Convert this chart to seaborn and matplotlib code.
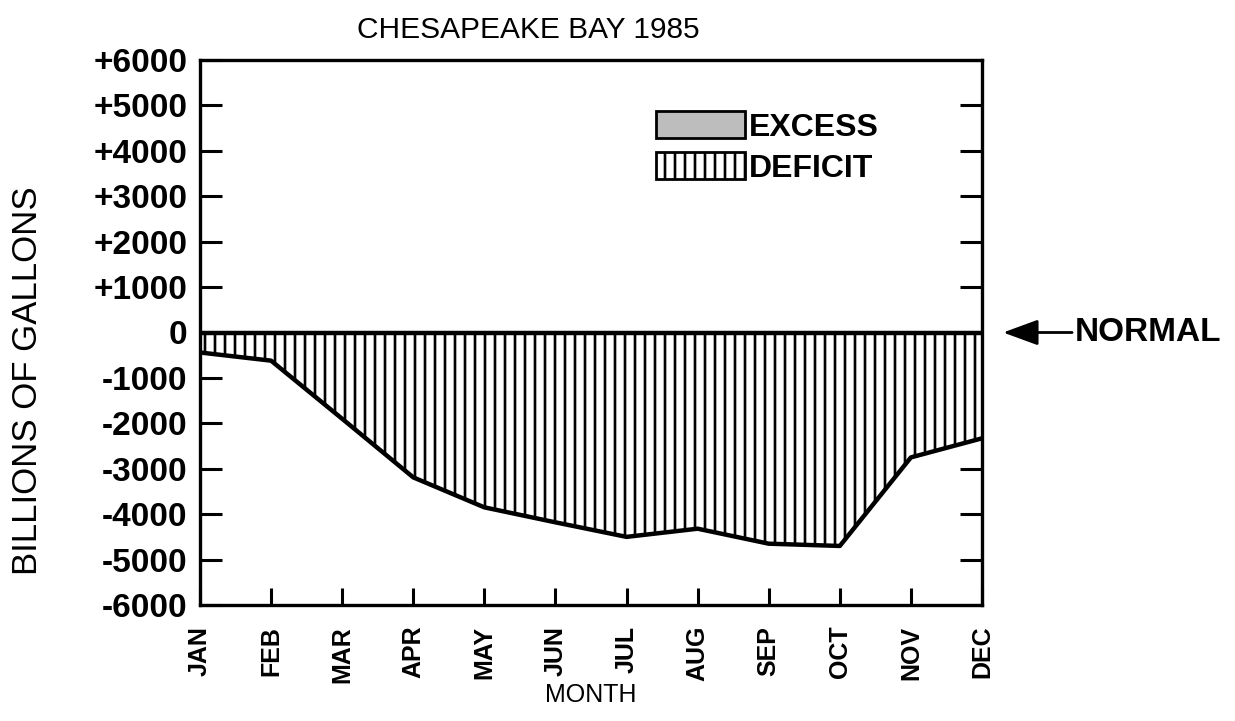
import numpy as np
import pandas as pd
import matplotlib
matplotlib.use('Agg')
import matplotlib.pyplot as plt
from matplotlib.patches import Patch
import seaborn as sns

# data (billions of gallons vs normal)
months = ['JAN', 'FEB', 'MAR', 'APR', 'MAY', 'JUN',
          'JUL', 'AUG', 'SEP', 'OCT', 'NOV', 'DEC']
flow = [-440, -620, -1900, -3190, -3850, -4180,
        -4500, -4320, -4650, -4700, -2750, -2330]
y_ticks = [6000, 5000, 4000, 3000, 2000, 1000, 0,
           -1000, -2000, -3000, -4000, -5000, -6000]
y_labels = ['+6000', '+5000', '+4000', '+3000', '+2000', '+1000', '0',
            '-1000', '-2000', '-3000', '-4000', '-5000', '-6000']
legend_labels = ['EXCESS', 'DEFICIT']

df = pd.DataFrame({'month': np.arange(len(months)), 'flow': flow})

# low dpi so the '|' hatch spacing comes out ~10px; sizes scaled by K
DPI = 60
K = 100 / DPI

sns.set_theme(style='white')
plt.rcParams['font.family'] = ['Liberation Sans', 'DejaVu Sans']
plt.rcParams['text.color'] = 'black'
plt.rcParams['axes.labelcolor'] = 'black'
plt.rcParams['xtick.color'] = 'black'
plt.rcParams['ytick.color'] = 'black'
plt.rcParams['hatch.linewidth'] = 1.9 * K
plt.rcParams['hatch.color'] = 'black'

fig = plt.figure(figsize=(1235 / DPI, 721 / DPI), dpi=DPI)
ax = fig.add_axes([200 / 1235, 1 - 605 / 721, 782 / 1235, 545 / 721])

# deficit area, hatched with vertical lines
ax.fill_between(df['month'], df['flow'], 0, facecolor='white',
                edgecolor='black', hatch='|', linewidth=0)
sns.lineplot(data=df, x='month', y='flow', color='black',
             linewidth=3.2 * K, ax=ax)
ax.axhline(0, color='black', linewidth=3.2 * K)

ax.set_xlim(0, len(months) - 1)
ax.set_ylim(-6000, 6000)
ax.set_yticks(y_ticks)
ax.set_yticklabels(y_labels, fontsize=24 * K, fontweight='bold')
ax.set_xticks(df['month'])
ax.set_xticklabels(months, rotation=90, fontsize=18 * K, fontweight='bold')

ax.tick_params(axis='y', direction='in', length=16 * K, width=2.2 * K,
               pad=9 * K, left=True, right=True)
ax.tick_params(axis='x', direction='in', length=12 * K, width=2.2 * K,
               pad=15 * K, bottom=True, top=False)
for s in ax.spines.values():
    s.set_visible(True)
    s.set_color('black')
    s.set_linewidth(2.4 * K)

ax.set_xlabel('MONTH', fontsize=18 * K)
ax.xaxis.set_label_coords(0.5, -0.143)
ax.set_ylabel('BILLIONS OF GALLONS', fontsize=25 * K)
ax.yaxis.set_label_coords(-0.200, 0.411)

fig.text(528 / 1235, 1 - 30 / 721, 'CHESAPEAKE BAY 1985', fontsize=21.5 * K,
         ha='center', va='center')

handles = [Patch(facecolor='#bdbdbd', edgecolor='black', linewidth=2 * K),
           Patch(facecolor='white', edgecolor='black', hatch='|',
                 linewidth=2 * K)]
ax.legend(handles, legend_labels, loc='upper left',
          bbox_to_anchor=(0.5625, 0.935), frameon=False, borderpad=0,
          handlelength=2.8, handleheight=0.9, handletextpad=0.12,
          labelspacing=0.3, prop={'size': 23 * K, 'weight': 'bold'})

ax.annotate('NORMAL', xy=(1.027, 0), xycoords=('axes fraction', 'data'),
            xytext=(1.118, 0), textcoords=('axes fraction', 'data'),
            fontsize=24 * K, fontweight='bold', ha='left', va='center',
            annotation_clip=False,
            arrowprops=dict(arrowstyle='-|>,head_length=0.9,head_width=0.33',
                            color='black', lw=2 * K, shrinkA=0, shrinkB=0))

fig.savefig('out.png', dpi=DPI)
